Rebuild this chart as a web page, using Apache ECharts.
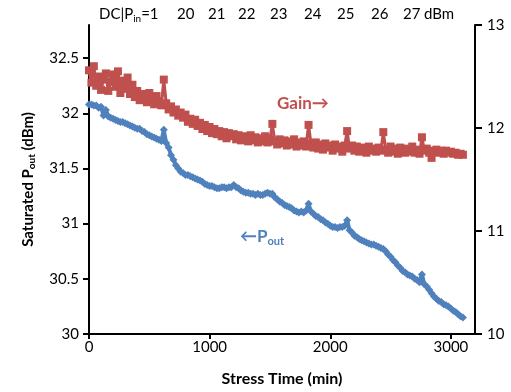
<!DOCTYPE html>
<html>
<head>
<meta charset="utf-8">
<script src="https://cdn.jsdelivr.net/npm/echarts@6/dist/echarts.min.js"></script>
<style>
  html, body { margin: 0; padding: 0; background: #fff; }
  #chart { width: 511px; height: 392px; }
</style>
</head>
<body>
<div id="chart"></div>
<script>
// stress time (min), one sample every 20 min
var times = [
  0, 20, 40, 60, 80, 100, 120, 140, 160, 180,
  200, 220, 240, 260, 280, 300, 320, 340, 360, 380,
  400, 420, 440, 460, 480, 500, 520, 540, 560, 580,
  600, 620, 640, 660, 680, 700, 720, 740, 760, 780,
  800, 820, 840, 860, 880, 900, 920, 940, 960, 980,
  1000, 1020, 1040, 1060, 1080, 1100, 1120, 1140, 1160, 1180,
  1200, 1220, 1240, 1260, 1280, 1300, 1320, 1340, 1360, 1380,
  1400, 1420, 1440, 1460, 1480, 1500, 1520, 1540, 1560, 1580,
  1600, 1620, 1640, 1660, 1680, 1700, 1720, 1740, 1760, 1780,
  1800, 1820, 1840, 1860, 1880, 1900, 1920, 1940, 1960, 1980,
  2000, 2020, 2040, 2060, 2080, 2100, 2120, 2140, 2160, 2180,
  2200, 2220, 2240, 2260, 2280, 2300, 2320, 2340, 2360, 2380,
  2400, 2420, 2440, 2460, 2480, 2500, 2520, 2540, 2560, 2580,
  2600, 2620, 2640, 2660, 2680, 2700, 2720, 2740, 2760, 2780,
  2800, 2820, 2840, 2860, 2880, 2900, 2920, 2940, 2960, 2980,
  3000, 3020, 3040, 3060, 3080, 3100];
// saturated Pout (dBm), left axis
var pout = [
  32.08, 32.08, 32.07, 32.07, 32.05, 32.06, 31.98, 32.03, 31.97, 31.96,
  31.95, 31.94, 31.93, 31.92, 31.92, 31.91, 31.90, 31.89, 31.88, 31.87,
  31.86, 31.86, 31.84, 31.83, 31.81, 31.80, 31.79, 31.78, 31.77, 31.76,
  31.75, 31.85, 31.73, 31.69, 31.62, 31.58, 31.53, 31.50, 31.47, 31.46,
  31.44, 31.44, 31.43, 31.42, 31.41, 31.40, 31.39, 31.38, 31.36, 31.35,
  31.34, 31.34, 31.33, 31.32, 31.32, 31.33, 31.33, 31.32, 31.33, 31.33,
  31.35, 31.33, 31.32, 31.30, 31.29, 31.28, 31.28, 31.27, 31.27, 31.26,
  31.27, 31.26, 31.26, 31.27, 31.28, 31.27, 31.27, 31.24, 31.22, 31.20,
  31.19, 31.17, 31.16, 31.15, 31.14, 31.12, 31.11, 31.10, 31.11, 31.10,
  31.12, 31.18, 31.11, 31.09, 31.07, 31.06, 31.04, 31.03, 31.01, 31.00,
  30.98, 30.97, 30.97, 30.96, 30.97, 30.97, 30.98, 31.03, 30.94, 30.92,
  30.89, 30.88, 30.86, 30.85, 30.84, 30.83, 30.82, 30.81, 30.81, 30.80,
  30.79, 30.78, 30.77, 30.75, 30.72, 30.70, 30.67, 30.65, 30.62, 30.60,
  30.57, 30.56, 30.54, 30.53, 30.52, 30.50, 30.49, 30.47, 30.54, 30.45,
  30.43, 30.40, 30.37, 30.34, 30.32, 30.30, 30.29, 30.27, 30.26, 30.25,
  30.23, 30.21, 30.20, 30.18, 30.16, 30.15];
// gain (dB), right axis
var gain = [
  12.56, 12.44, 12.60, 12.41, 12.50, 12.37, 12.47, 12.53, 12.36, 12.45,
  12.52, 12.40, 12.55, 12.34, 12.46, 12.38, 12.49, 12.33, 12.42, 12.30,
  12.36, 12.27, 12.33, 12.30, 12.25, 12.34, 12.28, 12.23, 12.31, 12.26,
  12.22, 12.47, 12.24, 12.18, 12.21, 12.15, 12.18, 12.12, 12.15, 12.10,
  12.13, 12.06, 12.09, 12.04, 12.08, 12.02, 12.05, 11.99, 12.03, 11.97,
  12.01, 11.95, 11.99, 11.94, 11.97, 11.92, 11.96, 11.90, 11.95, 11.92,
  11.94, 11.89, 11.93, 11.88, 11.92, 11.90, 11.87, 11.93, 11.88, 11.91,
  11.86, 11.90, 11.87, 11.92, 11.86, 11.89, 12.04, 11.87, 11.84, 11.89,
  11.85, 11.88, 11.83, 11.87, 11.84, 11.89, 11.82, 11.86, 11.83, 11.87,
  11.82, 12.03, 11.85, 11.81, 11.86, 11.80, 11.84, 11.79, 11.85, 11.81,
  11.83, 11.78, 11.84, 11.80, 11.82, 11.77, 11.83, 11.97, 11.80, 11.83,
  11.78, 11.82, 11.77, 11.81, 11.79, 11.76, 11.82, 11.78, 11.80, 11.77,
  11.81, 11.78, 11.96, 11.79, 11.76, 11.82, 11.77, 11.80, 11.75, 11.81,
  11.78, 11.76, 11.80, 11.77, 11.82, 11.76, 11.79, 11.75, 11.91, 11.78,
  11.80, 11.76, 11.71, 11.78, 11.79, 11.76, 11.78, 11.75, 11.78, 11.76,
  11.77, 11.75, 11.76, 11.74, 11.75, 11.74];

var xTicks = [0, 1000, 2000, 3000];
var leftTicks = [30, 30.5, 31, 31.5, 32, 32.5];
var rightTicks = [10, 11, 12, 13];
var pinLabels = ["20", "21", "22", "23", "24", "25", "26", "27"];

var FONT = "Lato, 'Open Sans', sans-serif";
var RED = "#C0504D";
var BLUE = "#4F81BD";

function pairs(xs, ys) {
  var out = [];
  for (var i = 0; i < xs.length; i++) out.push([xs[i], ys[i]]);
  return out;
}

var chart = echarts.init(document.getElementById("chart"));

// top row of input-power labels
var pinX = [177, 208, 238, 270, 304, 337, 371, 403];
var graphics = [{
  type: "text", left: 99, top: 7,
  style: {
    text: "{a|DC|P}{s|in}{a|=1}",
    rich: {
      a: { fontSize: 15, fontFamily: FONT, fill: "#000" },
      s: { fontSize: 10, fontFamily: FONT, fill: "#000", padding: [8, 0, 0, 0] }
    }
  }
}];
pinLabels.forEach(function (s, i) {
  graphics.push({ type: "text", left: pinX[i], top: 7,
    style: { text: s, fontSize: 15, fontFamily: FONT, fill: "#000" } });
});
graphics.push({ type: "text", left: 424, top: 7,
  style: { text: "dBm", fontSize: 15, fontFamily: FONT, fill: "#000" } });
graphics.push({ type: "text", left: 277, top: 95,
  style: { text: "Gain\u2192", fontSize: 17, fontWeight: "bold", fontFamily: FONT, fill: RED } });
graphics.push({ type: "text", left: 240, top: 228,
  style: {
    text: "{a|\u2190P}{s|out}",
    rich: {
      a: { fontSize: 17, fontWeight: "bold", fontFamily: FONT, fill: BLUE },
      s: { fontSize: 11, fontWeight: "bold", fontFamily: FONT, fill: BLUE, padding: [10, 0, 0, 0] }
    }
  }
});

var axisLineStyle = { color: "#000", width: 2 };

chart.setOption({
  animation: false,
  backgroundColor: "#fff",
  grid: { left: 89, right: 36, top: 25, bottom: 57 },
  graphic: graphics,
  xAxis: {
    type: "value",
    min: 0, max: 3200, interval: 1000,
    name: "Stress Time (min)",
    nameLocation: "middle",
    nameGap: 37,
    nameTextStyle: { fontSize: 16, fontWeight: "bold", fontFamily: FONT, color: "#000" },
    axisLine: { lineStyle: axisLineStyle },
    axisTick: { show: true, length: 5, lineStyle: axisLineStyle, customValues: xTicks },
    axisLabel: {
      fontSize: 15, fontFamily: FONT, color: "#000", margin: 6, customValues: xTicks,
      formatter: function (v) { return String(v); }
    },
    splitLine: { show: false }
  },
  yAxis: [{
    type: "value",
    position: "left",
    min: 30, max: 32.8,
    name: "{a|Saturated P}{s|out}{a| (dBm)}",
    nameLocation: "middle",
    nameGap: 52,
    nameRotate: 90,
    nameTextStyle: {
      rich: {
        a: { fontSize: 15, fontWeight: "bold", fontFamily: FONT, color: "#000" },
        s: { fontSize: 10, fontWeight: "bold", fontFamily: FONT, color: "#000", padding: [8, 0, 0, 0] }
      }
    },
    axisLine: { show: true, lineStyle: axisLineStyle },
    axisTick: { show: true, length: 6, lineStyle: axisLineStyle, customValues: leftTicks },
    axisLabel: { fontSize: 15, fontFamily: FONT, color: "#000", margin: 10, customValues: leftTicks },
    splitLine: { show: false }
  }, {
    type: "value",
    position: "right",
    min: 10, max: 13, interval: 1,
    axisLine: { show: true, lineStyle: axisLineStyle },
    axisTick: { show: true, length: 7, lineStyle: axisLineStyle, customValues: rightTicks },
    axisLabel: { fontSize: 15, fontFamily: FONT, color: "#000", margin: 12, customValues: rightTicks },
    splitLine: { show: false }
  }],
  series: [{
    name: "Gain",
    type: "line",
    yAxisIndex: 1,
    data: pairs(times, gain),
    symbol: "rect",
    symbolSize: 8,
    showAllSymbol: true,
    lineStyle: { color: RED, width: 3 },
    itemStyle: { color: RED },
    z: 2
  }, {
    name: "Pout",
    type: "line",
    yAxisIndex: 0,
    data: pairs(times, pout),
    symbol: "diamond",
    symbolSize: 8,
    showAllSymbol: true,
    lineStyle: { color: BLUE, width: 4 },
    itemStyle: { color: BLUE },
    z: 3
  }]
});
</script>
</body>
</html>
